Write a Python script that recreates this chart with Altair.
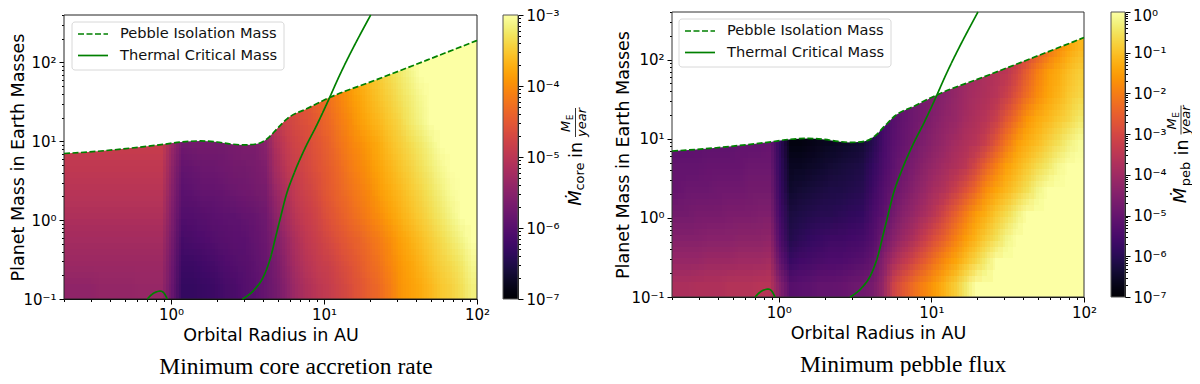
import altair as alt
import numpy as np
import pandas as pd

# Readings: cell colour as percent of colour-bar height, rows bottom -> top, 40 columns from 0.2 to 100 AU
CORE_LEVEL = [
 [39,39,39,40,40,40,40,41,41,41,29,17,17,18,19,21,22,24,26,29,32,37,43,47,50,52,55,58,61,64,67,71,76,79,81,84,87,89,92,96],
 [42,42,42,42,42,42,42,42,42,42,30,19,19,20,21,23,24,25,27,29,33,39,45,49,52,54,57,60,63,66,69,73,77,80,83,86,89,91,94,98],
 [44,44,44,44,44,44,44,44,44,44,32,21,22,23,24,25,26,26,28,30,35,41,47,51,54,57,60,63,65,68,71,75,79,82,85,88,91,94,97,100],
 [47,47,47,47,47,47,47,47,47,47,34,24,24,25,26,27,27,28,29,31,38,44,50,53,56,60,63,66,69,72,75,79,82,85,88,91,94,97,100,100],
 [49,49,49,49,49,49,49,49,49,49,36,26,27,28,28,29,30,31,32,33,41,47,52,55,58,62,65,68,71,74,78,81,84,87,90,93,96,99,100,100],
 [51,51,51,51,51,51,51,51,51,51,38,28,29,30,30,31,32,32,33,35,44,50,54,57,60,63,66,70,73,76,80,83,86,89,92,95,98,100,100,100],
 [53,53,53,53,53,53,53,53,53,53,41,31,32,32,32,32,33,34,34,37,47,52,56,58,61,64,68,72,75,78,81,85,88,91,94,97,100,100,100,100],
 [54,54,54,54,54,54,54,54,54,54,42,32,33,33,33,33,34,35,35,38,50,55,58,60,63,66,70,74,78,81,84,87,90,94,97,100,100,100,100,100],
 [54,54,54,54,54,54,54,54,54,54,42,32,33,33,33,33,34,35,35,38,52,56,59,62,65,68,72,76,80,83,86,89,92,95,98,100,100,100,100,100],
 [54,54,54,54,54,54,54,54,54,54,42,32,33,33,33,33,34,35,35,38,54,58,61,64,67,70,74,78,82,85,88,91,94,97,100,100,100,100,100,100],
 [54,54,54,54,54,54,54,54,54,54,42,32,33,33,33,33,34,35,35,38,56,60,63,66,69,72,76,80,84,87,90,93,96,99,100,100,100,100,100,100],
]
PEBBLE_LEVEL = [
 [46,46,47,47,47,48,48,48,49,49,36,25,26,27,28,28,29,30,31,33,40,55,62,68,73,78,83,88,94,100,100,100,100,100,100,100,100,100,100,100],
 [41,41,41,42,42,42,43,43,43,44,28,18,20,21,22,23,23,24,25,28,36,45,51,57,63,69,75,80,85,90,95,100,100,100,100,100,100,100,100,100],
 [36,36,36,37,37,37,38,38,38,39,23,13,15,17,18,19,19,20,21,24,30,37,42,47,53,59,65,72,78,83,88,92,97,100,100,100,100,100,100,100],
 [32,32,33,33,33,34,34,34,35,35,20,11,12,13,14,14,15,16,17,22,26,32,37,41,45,50,57,64,71,78,82,87,91,96,100,100,100,100,100,100],
 [29,30,30,30,31,31,31,32,32,32,18,8,9,10,11,12,12,13,14,19,24,29,33,37,41,45,48,54,60,67,75,80,84,88,92,97,100,100,100,100],
 [28,28,28,29,29,29,29,30,30,30,17,6,6,7,8,9,10,11,12,17,22,27,31,34,38,41,44,47,50,57,65,72,79,83,87,91,94,98,100,100],
 [26,26,27,27,27,27,28,28,28,29,16,3,3,4,5,6,7,8,9,14,21,26,29,32,35,38,41,44,47,49,54,62,70,78,82,85,89,92,96,99],
 [25,25,25,25,25,25,25,25,25,25,16,3,3,4,5,6,7,8,9,14,20,25,28,31,33,36,39,41,44,47,49,54,62,69,77,81,84,87,90,94],
 [25,25,25,25,25,25,25,25,25,25,16,3,3,4,5,6,7,8,9,14,20,25,28,31,33,35,37,40,43,45,47,49,54,61,68,75,80,83,87,90],
 [25,25,25,25,25,25,25,25,25,25,16,3,3,4,5,6,7,8,9,14,20,25,28,31,33,35,37,40,42,44,46,48,50,56,64,72,78,81,85,88],
 [25,25,25,25,25,25,25,25,25,25,16,3,3,4,5,6,7,8,9,14,20,25,28,31,33,35,37,40,42,44,46,48,49,50,55,61,68,75,80,84],
]
ISO_X = [0.2,0.33,0.546,0.90,1.16,1.56,2.0,2.45,3.0,3.66,4.26,4.95,5.76,7.76,10.5,22.3,47,100]
ISO_M = [7.0,7.47,8.2,9.17,9.8,10.1,9.8,9.25,9.0,9.3,10.8,14.5,19.4,26,34.8,61,107,190]
THERM_X = [2.93,3.49,4.06,4.49,4.83,5.21,5.62,6.37,7.41,9.06,10.8,12.2,20.2]
THERM_M = [0.1,0.13,0.20,0.344,0.61,1.10,1.97,3.90,7.7,16.7,34.7,59,400]
BUMP_X = [0.70,0.774,0.857,0.90,0.946]
BUMP_M = [0.1,0.119,0.126,0.119,0.1]
X_MAJOR = [1, 10, 100]
Y_MAJOR = [0.1, 1, 10, 100]
PEB = "Pebble Isolation Mass"
THM = "Thermal Critical Mass"
GREEN = "#008000"
FONT = "DejaVu Sans"
SUP = {0:"⁰",1:"¹",2:"²",-1:"⁻¹",-2:"⁻²",-3:"⁻³",-4:"⁻⁴",-5:"⁻⁵",-6:"⁻⁶",-7:"⁻⁷"}
W, H = 1184, 368
DASH = [6, 2.5]
# offsets of the four overlaid copies of the grid, in cell units, which soften the cell edges
SOFTEN = [(-0.375, -0.125), (-0.125, 0.375), (0.125, -0.375), (0.375, 0.125)]
ONE = pd.DataFrame({"a": [0]})

def ticks(lo, hi):
    out = []
    for e in range(-8, 4):
        for m in range(1, 10):
            v = float(f"{m}e{e}")
            if lo <= v <= hi:
                out.append(v)
    return out

def make_axis(title, values, orient, offset, majors, tpad, hide=(), **kw):
    mj = ",".join(repr(float(m)) for m in majors)
    chain = "''"
    for m in majors:
        if m in hide:
            continue
        e = int(round(np.log10(m)))
        chain = f"datum.value=={float(m)!r}?'10{SUP[e]}':" + chain
    return alt.Axis(values=values, orient=orient, offset=offset, grid=False, labelExpr=chain,
                    labelOverlap=False, labelFlush=False, labelBound=False,
                    labelFont=FONT, labelFontSize=15, labelColor="black", labelPadding=3,
                    titleFont=FONT, titleFontSize=17.5, titleFontWeight="normal", titleColor="black", titlePadding=tpad,
                    domainColor="black", tickColor="black", domainWidth=1, tickWidth=1,
                    tickSize={"condition": {"test": f"indexof([{mj}],datum.value)>=0", "value": 5}, "value": 2.5},
                    title=title, **kw)

def text(s, x, y, size, style="normal", font=FONT, angle=270, align="center", color="black"):
    return alt.Chart(ONE).mark_text(
        text=s, font=font, fontSize=size, fontStyle=style, angle=angle, align=align,
        baseline="middle", color=color).encode(x=alt.value(x), y=alt.value(y))

def cell_table(levels, span, xr, yr, sx, sy):
    nc, nr = len(levels[0]), len(levels)
    wpx, hpx = abs(xr[1] - xr[0]), abs(yr[1] - yr[0])
    lx0, lx1 = np.log10(0.2), 2.0
    ly0, ly1 = -1.0, np.log10(400)
    def xedge(k):
        f = 1.0 if k == nc else (0.0 if k == 0 else min(max((k + sx) / nc, 0), 1))
        return 10 ** (lx0 + round(f * wpx) / wpx * (lx1 - lx0))
    def yedge(k):
        ly = -1 + 0.3 * (k + sy) if k > 0 else -1.0
        if k == nr:
            ly = ly1
        return 10 ** (ly0 + round((ly - ly0) / (ly1 - ly0) * hpx) / hpx * (ly1 - ly0))
    return pd.DataFrame([
        {"x0": xedge(c), "x1": xedge(c + 1), "y0": yedge(r), "y1": yedge(r + 1),
         "v": 10.0 ** (-7 + span * levels[r][c] / 100)}
        for r in range(nr) for c in range(len(levels[r]))])

def legend_marks(x, y):
    """x, y: top-left corner of the legend box in the view"""
    box = alt.Chart(ONE).mark_rect(fill="white", fillOpacity=0.85, stroke="#d8d8d8", strokeWidth=1, cornerRadius=3).encode(
        x=alt.value(x), x2=alt.value(x + 212), y=alt.value(y), y2=alt.value(y + 48))
    s1 = alt.Chart(ONE).mark_rule(color=GREEN, strokeWidth=1.7, strokeDash=DASH).encode(
        x=alt.value(x + 6), x2=alt.value(x + 36), y=alt.value(y + 12))
    s2 = alt.Chart(ONE).mark_rule(color=GREEN, strokeWidth=1.7).encode(
        x=alt.value(x + 6), x2=alt.value(x + 36), y=alt.value(y + 33.5))
    return [box, s1, s2,
            text(PEB, x + 48, y + 12, 14.6, angle=0, align="left", color="#111111"),
            text(THM, x + 48, y + 33.5, 14.6, angle=0, align="left", color="#111111")]

def panel(levels, span, xr, yr, cbx, cb_major, lx, ly, frame_col, cb_title, title_x, hide=()):
    xs = alt.Scale(type="log", domain=[0.2, 100], range=xr)
    ys = alt.Scale(type="log", domain=[0.1, 400], range=yr)
    cs = alt.Scale(type="log", domain=[1e-7, 10.0 ** (-7 + span)], scheme="inferno", clamp=True)
    assert all(len(r) == 40 for r in levels) and len(levels) == 11
    heats = []
    for i, (sx, sy) in enumerate(SOFTEN):
        cells = cell_table(levels, span, xr, yr, sx, sy)
        if i == 0:
            xax = make_axis("Orbital Radius in AU", ticks(0.2, 100), "bottom", yr[0] - H, X_MAJOR, 4)
            yax = make_axis("Planet Mass in Earth Masses", ticks(0.1, 400), "left", -xr[0], Y_MAJOR, 1, titleX=title_x)
        else:
            xax = yax = None
        heats.append(alt.Chart(cells).mark_rect(opacity=1 / (i + 1)).encode(
            x=alt.X("x0:Q", scale=xs, axis=xax), x2="x1:Q",
            y=alt.Y("y0:Q", scale=ys, axis=yax), y2="y1:Q",
            color=alt.Color("v:Q", scale=cs, legend=None)))
    iso = pd.DataFrame({"x": ISO_X, "y": ISO_M, "top": [400] * len(ISO_X)})
    mask = alt.Chart(iso).mark_area(color="white", interpolate="monotone").encode(
        x=alt.X("x:Q", scale=xs, axis=None), y=alt.Y("y:Q", scale=ys, axis=None), y2="top:Q")
    frame = alt.Chart(pd.DataFrame({"x0": [0.2], "x1": [100], "y0": [0.1], "y1": [400]})).mark_rect(
        filled=False, stroke=frame_col, strokeWidth=1).encode(
        x=alt.X("x0:Q", scale=xs, axis=None), x2="x1:Q", y=alt.Y("y0:Q", scale=ys, axis=None), y2="y1:Q")
    lines = pd.concat([
        pd.DataFrame({"x": ISO_X, "y": ISO_M, "s": PEB, "g": "a"}),
        pd.DataFrame({"x": THERM_X, "y": THERM_M, "s": THM, "g": "b"}),
        pd.DataFrame({"x": BUMP_X, "y": BUMP_M, "s": THM, "g": "c"})])
    ln = alt.Chart(lines).mark_line(strokeWidth=1.7, interpolate="monotone", color=GREEN).encode(
        x=alt.X("x:Q", scale=xs, axis=None, sort=None), y=alt.Y("y:Q", scale=ys, axis=None),
        detail="g:N",
        strokeDash=alt.StrokeDash("s:N", scale=alt.Scale(domain=[PEB, THM], range=[DASH, [1, 0]]), legend=None))
    # colour bar: one cell per pixel row of the bar
    top = -7 + span
    n = int(abs(yr[1] - yr[0]))
    edges = 10 ** np.linspace(-7, top, n + 1)
    bar = pd.DataFrame({"x0": [0] * n, "x1": [1] * n, "y0": edges[:-1], "y1": edges[1:],
                        "v": np.sqrt(edges[:-1] * edges[1:])})
    cbxs = alt.Scale(domain=[0, 1], range=cbx)
    cbys = alt.Scale(type="log", domain=[1e-7, 10.0 ** top], range=yr)
    cb = alt.Chart(bar).mark_rect().encode(
        x=alt.X("x0:Q", scale=cbxs, axis=None), x2="x1:Q",
        y=alt.Y("y0:Q", scale=cbys, axis=make_axis(None, ticks(1e-7, 10.0 ** top), "right", cbx[1] - W, cb_major, 0, hide=hide)),
        y2="y1:Q",
        color=alt.Color("v:Q", scale=cs, legend=None))
    cbf = alt.Chart(pd.DataFrame({"x0": [0], "x1": [1], "y0": [1e-7], "y1": [10.0 ** top]})).mark_rect(
        filled=False, stroke="#555555", strokeWidth=1).encode(
        x=alt.X("x0:Q", scale=cbxs, axis=None), x2="x1:Q", y=alt.Y("y0:Q", scale=cbys, axis=None), y2="y1:Q")
    return heats + [mask, frame, ln, cb, cbf] + legend_marks(lx, ly) + cb_title

def cbtitle(sub, dx, dy, year_dx=0):
    return [
        text("Ṁ", 567.5 + dx, 190 + dy, 18, "italic"),
        text(sub, 572 + dx, 168.5 + dy, 13),
        text("in", 569 + dx, 142 + dy, 17.5),
        text("M", 558 + dx, 118.5 + dy, 13, "italic"),
        text("E", 562 + dx, 109.5 + dy, 9),
        text("year", 574 + dx + year_dx, 114.5 + dy, 13, "italic"),
        alt.Chart(ONE).mark_rule(color="black", strokeWidth=0.8).encode(
            x=alt.value(567.5 + dx), y=alt.value(100 + dy), y2=alt.value(129 + dy)),
    ]

left = panel(CORE_LEVEL, 4, [56, 469], [291, 7], [495, 510], [1e-7, 1e-6, 1e-5, 1e-4, 1e-3], 64, 14, "#222222",
             cbtitle("core", 0, 0), -37)
right = panel(PEBBLE_LEVEL, 7, [664, 1076], [289, 4], [1103, 1117], [1e-7, 1e-6, 1e-5, 1e-4, 1e-3, 1e-2, 1e-1, 1.0],
              671, 11, "#333333", cbtitle("peb", 605.5, -2.5, -1.5), -40, hide=(1.0,))
caps = [
    text("Minimum core accretion rate", 288, 359, 23.5, font="Liberation Serif", angle=0),
    text("Minimum pebble flux", 895, 357, 23.5, font="Liberation Serif", angle=0),
    text("10⁰", 1125, 8, 15, angle=0, align="left"),
]

chart = alt.layer(*left, *right, *caps).resolve_scale(
    x="independent", y="independent", color="independent", strokeDash="independent"
).resolve_axis(x="independent", y="independent").properties(
    width=W, height=H, padding=0, autosize=alt.AutoSizeParams(type="none")
).configure_view(stroke=None)

chart.save("out.html", embed_options={"renderer": "svg", "actions": False})
